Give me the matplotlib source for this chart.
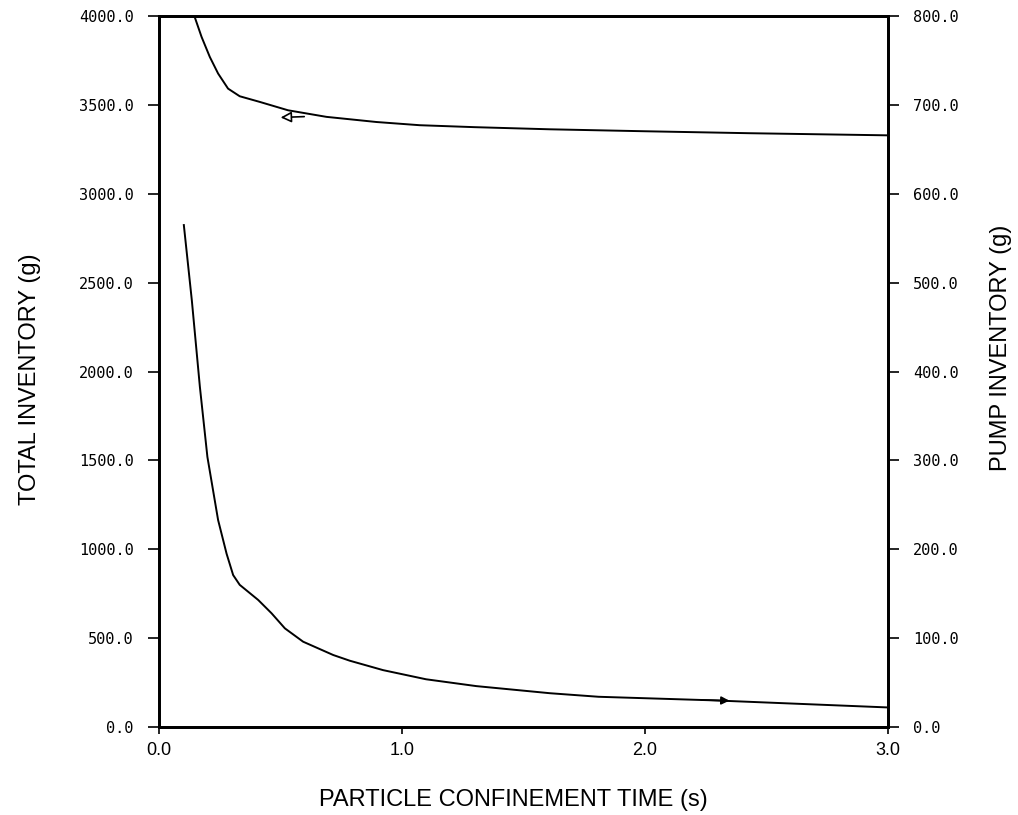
import matplotlib
matplotlib.use("Agg")
import matplotlib.pyplot as plt

# total inventory (left axis, g) vs particle confinement time (s)
t_total = [0.148, 0.176, 0.21, 0.244, 0.285, 0.333, 0.416, 0.532, 0.69,
           0.896, 1.074, 1.3, 1.61, 2.0, 2.43, 3.0]
total_inv = [3995, 3884, 3771, 3678, 3593, 3550, 3518, 3471, 3434,
             3405, 3387, 3376, 3364, 3353, 3342, 3330]

# pump inventory (right axis, g)
t_pump = [0.103, 0.136, 0.169, 0.20, 0.244, 0.279, 0.306, 0.333, 0.409,
          0.464, 0.519, 0.594, 0.718, 0.786, 0.923, 1.10, 1.307, 1.61,
          1.81, 2.28, 3.0]
pump_inv = [565, 480, 383, 304, 233, 195, 171, 160, 143,
            128, 111, 96, 81, 74.6, 64, 53.7, 46, 38,
            34, 30, 22]

left_ticks = [0, 500, 1000, 1500, 2000, 2500, 3000, 3500, 4000]
right_ticks = [0, 100, 200, 300, 400, 500, 600, 700, 800]
x_ticks = [0.0, 1.0, 2.0, 3.0]

mono = "DejaVu Sans Mono"
sans = "Liberation Sans"

fig = plt.figure(figsize=(10.18, 8.15), dpi=100)
ax = fig.add_axes([0.156, 0.108, 0.716, 0.872])
ax2 = ax.twinx()

ax.plot(t_total, total_inv, color="black", lw=1.4)
ax2.plot(t_pump, pump_inv, color="black", lw=1.4)

# curve-to-axis arrows
ax.annotate("", xy=(0.49, 3430), xytext=(0.61, 3436),
            arrowprops=dict(arrowstyle="-|>", color="black", lw=1.2,
                            fc="white", mutation_scale=16))
ax2.annotate("", xy=(2.36, 29.5), xytext=(2.22, 30.5),
             arrowprops=dict(arrowstyle="-|>", color="black", lw=1.2,
                             mutation_scale=12))

ax.set_xlim(0, 3.0)
ax.set_ylim(0, 4000)
ax2.set_ylim(0, 800)

ax.set_xticks(x_ticks)
ax.set_xticklabels(["%.1f" % v for v in x_ticks], fontfamily=sans, fontsize=13)
ax.set_yticks(left_ticks)
ax.set_yticklabels(["%.1f" % v for v in left_ticks], fontfamily=mono, fontsize=11)
ax2.set_yticks(right_ticks)
ax2.set_yticklabels(["%.1f" % v for v in right_ticks], fontfamily=mono, fontsize=11)

ax.tick_params(axis="y", direction="out", length=8, width=1.2, pad=10)
ax.tick_params(axis="x", direction="out", length=5, width=1.2, pad=6)
ax2.tick_params(axis="y", direction="out", length=8, width=1.2, pad=10)

for a in (ax, ax2):
    for s in a.spines.values():
        s.set_linewidth(2.0)

ax.set_xlabel("PARTICLE CONFINEMENT TIME (s)", fontfamily=sans, fontsize=17,
              va="center")
ax.xaxis.set_label_coords(0.486, -0.103)
ax.set_ylabel("TOTAL INVENTORY (g)", fontfamily=sans, fontsize=17, va="center")
ax.yaxis.set_label_coords(-0.177, 0.49)
ax2.set_ylabel("PUMP INVENTORY (g)", fontfamily=sans, fontsize=17, va="center")
ax2.yaxis.set_label_coords(1.156, 0.533)

fig.savefig("out.png", dpi=100)
